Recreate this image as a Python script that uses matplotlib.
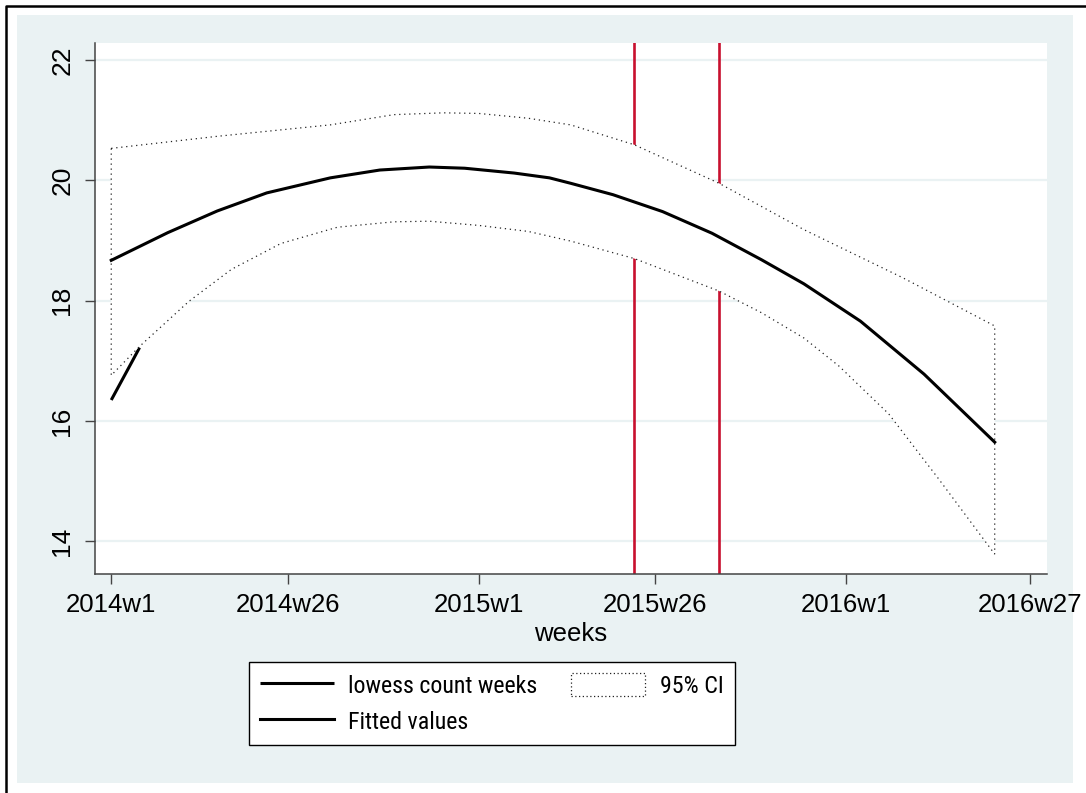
from matplotlib import pyplot as plt
from matplotlib import font_manager as fm
from matplotlib.lines import Line2D
from matplotlib.patches import Rectangle

# Stata weekly dates (weeks since 1960w1)
tick_weeks = [2808, 2833, 2860, 2885, 2912, 2938]
tick_labels = ["2014w1", "2014w26", "2015w1", "2015w26", "2016w1", "2016w27"]
y_ticks = [14, 16, 18, 20, 22]

lowess_weeks = [2808, 2811, 2812]
lowess_vals = [16.35, 17.0, 17.22]

fit_weeks = [2808, 2816, 2823, 2830, 2839, 2846, 2853, 2858, 2865, 2870,
             2873, 2879, 2886, 2893, 2900, 2906, 2914, 2923, 2933]
fit_vals = [18.67, 19.13, 19.49, 19.79, 20.04, 20.17, 20.22, 20.20, 20.12, 20.04,
            19.95, 19.76, 19.48, 19.12, 18.68, 18.28, 17.66, 16.78, 15.65]

ci_up_weeks = [2808, 2823, 2839, 2848, 2855, 2860, 2867, 2873, 2882, 2894,
               2906, 2920, 2933]
ci_up_vals = [20.53, 20.73, 20.92, 21.09, 21.12, 21.11, 21.03, 20.92, 20.59, 19.95,
              19.18, 18.38, 17.58]

ci_lo_weeks = [2808, 2812, 2819, 2825, 2832, 2840, 2848, 2853, 2860, 2867,
               2873, 2882, 2894, 2900, 2906, 2911, 2918, 2925, 2933]
ci_lo_vals = [16.76, 17.24, 17.99, 18.52, 18.95, 19.22, 19.31, 19.32, 19.25, 19.15,
              18.99, 18.70, 18.16, 17.80, 17.38, 16.91, 16.12, 15.05, 13.79]

event_weeks = [2882, 2894]

legend_labels = ["lowess count weeks", "Fitted values", "95% CI"]

bg = "#EAF2F3"
plt.rcParams["font.family"] = ["Liberation Sans", "DejaVu Sans"]


def narrow_font():
    files = {f.fname.split("/")[-1].lower(): f.fname for f in fm.fontManager.ttflist}
    for name in ["robotocondensed-regular.ttf", "archivonarrow[wght].ttf",
                 "liberationsansnarrow-regular.ttf", "dejavusanscondensed.ttf"]:
        if name in files:
            return files[name]
    return None


fig = plt.figure(figsize=(10.86, 7.93), dpi=100)
fig.patches.append(Rectangle((17 / 1086, 1 - 783 / 793), 1056 / 1086, 768 / 793,
                             transform=fig.transFigure, facecolor=bg, edgecolor="none", zorder=-10))
fig.lines.append(Line2D([6 / 1086, 6 / 1086, 1], [0, 1 - 6 / 793, 1 - 6 / 793],
                        transform=fig.transFigure, color="black", lw=1.8))

ax = fig.add_axes([95 / 1086, 1 - 574 / 793, 952 / 1086, 531 / 793])
ax.set_facecolor("white")

for w in event_weeks:
    ax.axvline(w, color="#C8102E", lw=1.9, zorder=1)

lowess, = ax.plot(lowess_weeks, lowess_vals, color="black", lw=2.2, zorder=2,
                  solid_capstyle="butt")

ci_x = ci_up_weeks + ci_lo_weeks[::-1]
ci_y = ci_up_vals + ci_lo_vals[::-1]
ax.fill(ci_x, ci_y, facecolor="white", edgecolor="#222222", lw=0.9,
        linestyle=(0, (1, 3)), zorder=3)

fitted, = ax.plot(fit_weeks, fit_vals, color="black", lw=2.2, zorder=4)

ax.set_xlim(2805.7, 2940.4)
ax.set_ylim(13.46, 22.28)
ax.set_xticks(tick_weeks, tick_labels)
ax.set_yticks(y_ticks)
ax.tick_params(axis="x", length=7, width=1, color="#444444", labelsize=18.5, pad=7)
ax.tick_params(axis="y", length=7, width=1, color="#444444", labelsize=19, pad=8)
for lab in ax.get_yticklabels():
    lab.set_rotation(90)
    lab.set_va("center")
ax.grid(axis="y", color=bg, lw=1.6, zorder=0)
ax.set_axisbelow(True)
for s in ["top", "right"]:
    ax.spines[s].set_visible(False)
for s in ["left", "bottom"]:
    ax.spines[s].set_color("#444444")
    ax.spines[s].set_linewidth(1.1)
ax.set_xlabel("weeks", fontsize=18.5, labelpad=3)

# legend text in the picture is condensed: use a narrow face sized to the width
fn = narrow_font()
if fn:
    prop = fm.FontProperties(fname=fn, size=20)
else:
    prop = fm.FontProperties(family="Liberation Sans", size=20)
renderer = fig.canvas.get_renderer()
probe = fig.text(0, 0, legend_labels[0], fontproperties=prop)
width = probe.get_window_extent(renderer).width
size = min(23, 20 * 190 / width)
prop.set_size(size)
probe.set_fontproperties(prop)
row_h = max(26, probe.get_window_extent(renderer).height)
probe.remove()
em = size * 100 / 72

ci_handle = Rectangle((0, 0), 1, 1, facecolor="white", edgecolor="#222222", lw=0.9,
                      linestyle=(0, (1, 2)))
leg = fig.legend([lowess, fitted, ci_handle], legend_labels,
                 ncol=2, loc="center", bbox_to_anchor=(491.5 / 1086, 1 - 703.5 / 793),
                 prop=prop, frameon=True, fancybox=False, edgecolor="black", framealpha=1,
                 handlelength=74 / em, handleheight=26 / em, handletextpad=15 / em,
                 columnspacing=33 / em, labelspacing=(37 - row_h) / em,
                 borderpad=(24 - row_h / 2) / em)
leg.get_frame().set_linewidth(1.0)

fig.savefig("out.png", dpi=100)
